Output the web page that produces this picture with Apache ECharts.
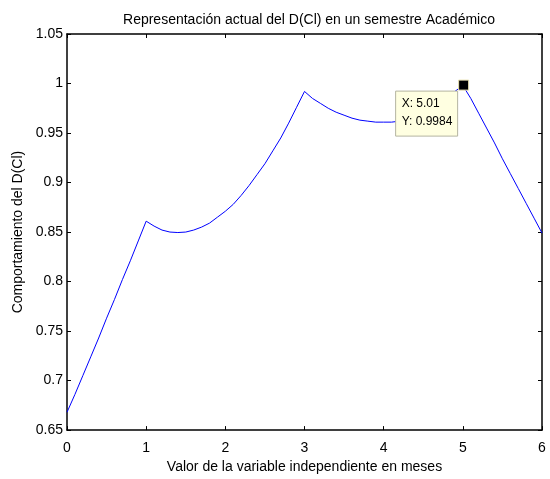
<!DOCTYPE html>
<html>
<head>
<meta charset="utf-8">
<script src="https://cdn.jsdelivr.net/npm/echarts@6/dist/echarts.min.js"></script>
<style>html,body{margin:0;padding:0;background:#fff;}#c{width:550px;height:479px;}</style>
</head>
<body>
<div id="c"></div>
<script>
var titleText = 'Representación actual del D(Cl) en un semestre Académico';
var xAxisName = 'Valor de la variable independiente en meses';
var yAxisName = 'Comportamiento del D(Cl)';
var xValues = [0,0.1,0.2,0.3,0.4,0.5,0.6,0.7,0.8,0.9,1.0,
  1.1,1.2,1.3,1.4,1.5,1.6,1.7,1.8,1.9,2.0,2.1,2.2,2.3,2.4,2.5,2.6,2.7,2.8,2.9,3.0,
  3.1,3.2,3.3,3.4,3.5,3.6,3.7,3.8,3.9,4.0,4.1,4.2,4.3,4.4,4.5,4.6,4.7,4.8,4.9,5.0,5.01,
  5.1,5.2,5.3,5.4,5.5,5.6,5.7,5.8,5.9,6.0];
var yValues = [0.668,0.686,0.705,0.724,0.743,0.763,0.782,0.802,0.821,0.841,0.861,
  0.856,0.852,0.850,0.8495,0.850,0.852,0.855,0.859,0.865,0.871,0.878,0.887,0.897,0.908,0.919,0.932,0.945,0.960,0.976,0.992,
  0.985,0.980,0.975,0.971,0.968,0.965,0.963,0.962,0.961,0.961,0.961,0.962,0.964,0.967,0.971,0.975,0.980,0.986,0.992,0.998,0.9984,
  0.985,0.970,0.955,0.940,0.924,0.909,0.894,0.879,0.864,0.849];
var datatipPoint = [5.01, 0.9984];
var datatipLines = ['X: 5.01', 'Y: 0.9984'];

var data = xValues.map(function(x, i){ return [x, yValues[i]]; });
var FONT = 'Liberation Sans, Arial, Helvetica, sans-serif';
var FS = 14;
var chart = echarts.init(document.getElementById('c'), null, {renderer: 'canvas'});

function axisCommon(show){
  return {
    axisLine: {show: true, onZero: false, lineStyle: {color: '#000', width: 1.5}},
    axisTick: {show: true, inside: true, length: 4, lineStyle: {color: '#000'}},
    splitLine: {show: false},
    axisLabel: {show: show, color: '#000', fontFamily: FONT, fontSize: FS}
  };
}

var option = {
  animation: false,
  backgroundColor: '#fff',
  title: {
    text: titleText, left: 304, top: 8, textAlign: 'center',
    textStyle: {fontFamily: FONT, fontSize: FS, fontWeight: 'normal', color: '#000'}
  },
  grid: {left: 67, right: 8, top: 34, bottom: 43, containLabel: false},
  xAxis: [
    Object.assign(axisCommon(true), {
      type: 'value', min: 0, max: 6, interval: 1, position: 'bottom',
      name: xAxisName, nameLocation: 'middle', nameGap: 29,
      nameTextStyle: {fontFamily: FONT, fontSize: FS, color: '#000'},
      axisLabel: {show: true, color: '#000', fontFamily: FONT, fontSize: FS, margin: 11}
    }),
    Object.assign(axisCommon(false), {type: 'value', min: 0, max: 6, interval: 1, position: 'top'})
  ],
  yAxis: [
    Object.assign(axisCommon(true), {
      type: 'value', min: 0.65, max: 1.05, interval: 0.05, position: 'left',
      name: yAxisName, nameLocation: 'middle', nameGap: 37, nameRotate: 90,
      nameTextStyle: {fontFamily: FONT, fontSize: FS, color: '#000'},
      axisLabel: {show: true, color: '#000', fontFamily: FONT, fontSize: FS, margin: 4,
        formatter: function(v){ return String(parseFloat(v.toFixed(2))); }}
    }),
    Object.assign(axisCommon(false), {type: 'value', min: 0.65, max: 1.05, interval: 0.05, position: 'right'})
  ],
  series: [{
    type: 'line', data: data, showSymbol: false, symbol: 'none', smooth: false,
    lineStyle: {color: '#0000ff', width: 1}, z: 2
  }]
};
chart.setOption(option);

var p = chart.convertToPixel({xAxisIndex: 0, yAxisIndex: 0}, datatipPoint);
var bw = 62, bh = 45;
var bx = p[0] - 68, by = p[1] + 6;
chart.setOption({
  graphic: [
    {type: 'rect', z: 100, shape: {x: bx, y: by, width: bw, height: bh},
     style: {fill: '#ffffe1', stroke: '#b4b4a0', lineWidth: 1}},
    {type: 'text', z: 101, style: {x: bx + 6, y: by + 13, text: datatipLines[0], fill: '#000',
      font: '12px ' + FONT, textVerticalAlign: 'middle'}},
    {type: 'text', z: 101, style: {x: bx + 6, y: by + 31, text: datatipLines[1], fill: '#000',
      font: '12px ' + FONT, textVerticalAlign: 'middle'}},
    {type: 'rect', z: 102, shape: {x: p[0] - 5, y: p[1] - 5, width: 10, height: 10},
     style: {fill: '#000', stroke: '#e8e0b0', lineWidth: 1}}
  ]
});
</script>
</body>
</html>
